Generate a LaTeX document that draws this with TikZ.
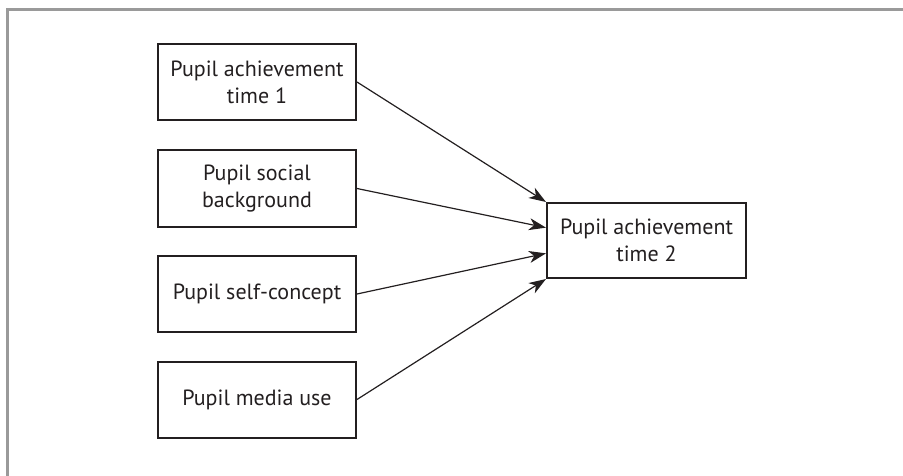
\documentclass[tikz,border=0pt]{standalone}
\usepackage{fontspec}
\setmainfont{PT Sans}
\usetikzlibrary{arrows.meta,calc}
\definecolor{ink}{HTML}{231F20}
\definecolor{framegray}{HTML}{9A9A9A}
\begin{document}
\begin{tikzpicture}[x=1pt,y=-1pt,
  box/.style={draw=ink, line width=2pt, minimum width=198pt, minimum height=76pt,
    align=center, inner sep=0pt, text=ink,
    font=\fontsize{22}{27}\selectfont},
  conn/.style={draw=ink, line width=1.2pt, -{Stealth[length=17pt,width=12pt,inset=5pt]}}]
\useasboundingbox (0,0) rectangle (903,476);
\draw[framegray, line width=3pt] (7,476) -- (7,9.5) -- (903,9.5);
\node[box] (a) at (257,82) {Pupil achievement\\time 1};
\node[box] (b) at (257,188.5) {Pupil social\\background};
\node[box] (c) at (257,294) {Pupil self-concept};
\node[box] (d) at (257,399.5) {Pupil media use};
\node[box, minimum width=199pt, minimum height=75pt] (t) at (646.5,240.5) {Pupil achievement\\time 2};
\coordinate (t1) at ($(t.north west)!1/3!(t.south west)$);
\coordinate (t2) at ($(t.north west)!2/3!(t.south west)$);
\draw[conn] (a.east) -- (t.north west);
\draw[conn] (b.east) -- (t1);
\draw[conn] (c.east) -- (t2);
\draw[conn] (d.east) -- (t.south west);
\end{tikzpicture}
\end{document}
